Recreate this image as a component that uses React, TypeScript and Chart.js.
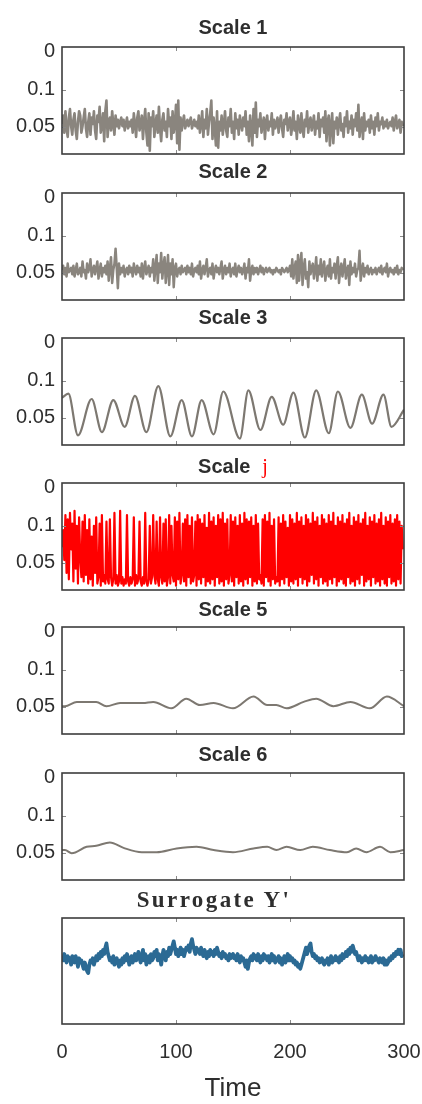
import React, { useEffect, useRef } from 'react';
import { Chart, registerables } from 'chart.js';

Chart.register(...registerables);

// ---------- data ----------
const TIME_MIN = 0;
const TIME_MAX = 300;
const TIME_TICKS = [0, 100, 200, 300];
const SAMPLE_STEP = 1; // noisy series: one sample per time unit

const Y_TICK_POSITIONS = [4, 40, 74.5];
const Y_TICK_LABELS = ['0', '0.1', '0.05'];

const PANEL_TITLES = ['Scale 1', 'Scale 2', 'Scale 3', 'Scale', 'Scale 5', 'Scale 6', "Surrogate Y'"];
const SCALE_J_SUFFIX = 'j';
const X_AXIS_TITLE = 'Time';

const scale1Values = [
  72, 64, 80, 60, 76, 84, 66, 58, 74, 82,
  68, 62, 78, 86, 70, 60, 64, 80, 74, 66,
  58, 76, 84, 70, 62, 82, 66, 72, 60, 78,
  86, 64, 70, 56, 80, 74, 62, 88, 60, 50,
  84, 70, 66, 78, 60, 72, 82, 64, 74, 68,
  76, 70, 66, 74, 68, 78, 72, 66, 76, 70,
  74, 68, 80, 62, 72, 84, 66, 60, 78, 72,
  64, 86, 70, 58, 80, 92, 62, 97, 66, 74,
  60, 84, 72, 64, 80, 56, 76, 88, 68, 62,
  78, 70, 84, 58, 74, 66, 86, 60, 80, 72,
  54, 90, 50, 96, 66, 78, 70, 64, 76, 72,
  68, 74, 70, 66, 76, 72, 68, 74, 70, 76,
  64, 80, 72, 60, 84, 68, 76, 58, 82, 70,
  62, 50, 86, 66, 76, 92, 60, 94, 70, 78,
  64, 82, 72, 60, 78, 84, 66, 74, 58, 80,
  70, 86, 62, 76, 68, 82, 64, 72, 78, 66,
  74, 60, 82, 70, 88, 64, 76, 92, 58, 80,
  52, 84, 68, 74, 62, 80, 72, 66, 86, 70,
  64, 78, 70, 74, 62, 82, 68, 76, 72, 66,
  80, 70, 64, 76, 84, 68, 72, 62, 78, 70,
  66, 82, 74, 60, 78, 70, 86, 64, 72, 80,
  62, 76, 84, 68, 74, 60, 80, 70, 66, 78,
  72, 64, 82, 70, 76, 62, 84, 68, 74, 66,
  80, 60, 88, 70, 64, 92, 74, 62, 90, 70,
  76, 66, 82, 70, 62, 78, 72, 84, 66, 74,
  60, 80, 70, 76, 64, 82, 68, 74, 62, 78,
  54, 84, 72, 66, 86, 62, 78, 70, 74, 68,
  80, 64, 76, 70, 82, 66, 74, 62, 78, 70,
  72, 66, 76, 70, 74, 68, 76, 72, 70, 74,
  66, 78, 70, 64, 76, 72, 68, 80, 70, 74,
];

const scale2Values = [
  72, 68, 76, 70, 78, 66, 74, 72, 70, 76,
  68, 78, 72, 66, 76, 74, 70, 78, 64, 74,
  72, 80, 66, 74, 70, 62, 78, 72, 68, 76,
  70, 64, 80, 72, 66, 78, 70, 74, 68, 76,
  64, 82, 70, 60, 84, 72, 66, 52, 70, 89,
  66, 76, 70, 74, 68, 78, 72, 70, 76, 68,
  74, 70, 78, 66, 72, 76, 68, 74, 70, 78,
  66, 80, 70, 64, 76, 72, 68, 78, 70, 74,
  62, 82, 70, 58, 84, 66, 74, 56, 80, 68,
  60, 84, 72, 58, 86, 66, 76, 62, 88, 70,
  66, 78, 72, 70, 76, 68, 74, 72, 70, 76,
  68, 74, 70, 76, 66, 78, 72, 70, 74, 68,
  76, 64, 80, 72, 68, 76, 70, 62, 78, 72,
  70, 76, 66, 80, 72, 68, 74, 70, 76, 70,
  64, 80, 72, 68, 76, 70, 74, 66, 78, 72,
  70, 76, 66, 78, 72, 68, 74, 70, 76, 72,
  66, 80, 70, 74, 62, 82, 72, 68, 76, 70,
  74, 70, 76, 72, 68, 74, 70, 76, 72, 70,
  74, 72, 70, 74, 72, 76, 72, 74, 70, 72,
  74, 72, 76, 70, 72, 74, 72, 70, 74, 72,
  68, 78, 62, 80, 70, 64, 84, 58, 82, 66,
  56, 86, 70, 62, 80, 74, 88, 64, 76, 70,
  66, 80, 72, 60, 82, 68, 76, 62, 78, 70,
  64, 82, 72, 68, 78, 62, 80, 70, 74, 66,
  80, 68, 60, 84, 72, 66, 78, 70, 62, 80,
  72, 68, 86, 64, 76, 70, 74, 66, 78, 72,
  70, 54, 82, 72, 66, 78, 70, 74, 68, 76,
  72, 70, 76, 72, 74, 70, 76, 72, 70, 74,
  68, 76, 72, 70, 74, 66, 78, 72, 70, 74,
  72, 76, 70, 74, 68, 76, 72, 74, 70, 72,
];

const scale3Times = [
  0, 5.6, 14, 26, 35, 45, 55, 64, 74, 84.5,
  95, 105, 114, 122.5, 133, 141.5, 156, 163.5, 174, 184,
  194, 203, 213, 223, 234, 242, 253, 263, 272, 282,
  289, 300,
];
const scale3Values = [
  56, 52, 91, 57, 88, 58, 83, 54, 88, 45,
  92, 58, 92, 58, 90, 50, 94, 49, 86, 55,
  81, 51, 93, 49, 89, 50, 84, 53, 80, 53,
  83, 67,
];

const scaleJValues = [
  60, 44, 72, 30, 84, 34, 90, 28, 62, 38,
  92, 26, 80, 40, 94, 32, 70, 88, 36, 92,
  30, 86, 44, 94, 34, 90, 50, 96, 40, 84,
  32, 94, 88, 38, 96, 30, 92, 86, 94, 36,
  90, 94, 34, 88, 96, 90, 28, 94, 86, 96,
  92, 26, 94, 88, 96, 90, 94, 30, 92, 96,
  88, 94, 90, 32, 96, 86, 94, 90, 36, 92,
  96, 88, 94, 28, 92, 96, 90, 40, 94, 88,
  30, 86, 94, 36, 90, 96, 32, 88, 94, 38,
  92, 34, 96, 88, 30, 94, 40, 86, 92, 32,
  96, 36, 90, 28, 94, 86, 38, 92, 34, 96,
  30, 88, 40, 94, 32, 92, 86, 36, 96, 30,
  90, 34, 94, 38, 88, 30, 96, 42, 92, 28,
  94, 36, 90, 32, 96, 40, 88, 30, 94, 34,
  92, 28, 96, 38, 90, 34, 94, 86, 30, 92,
  36, 96, 32, 88, 40, 94, 30, 92, 38, 96,
  28, 90, 34, 94, 36, 88, 32, 96, 40, 92,
  30, 94, 38, 90, 86, 94, 34, 96, 30, 88,
  36, 92, 28, 96, 40, 90, 34, 94, 88, 92,
  32, 96, 38, 90, 30, 94, 36, 88, 42, 96,
  30, 92, 34, 94, 38, 90, 28, 96, 36, 88,
  32, 94, 40, 90, 30, 96, 34, 92, 38, 86,
  28, 94, 36, 90, 32, 96, 40, 88, 30, 94,
  34, 92, 38, 96, 30, 90, 36, 94, 28, 88,
  40, 96, 32, 92, 36, 90, 30, 94, 38, 96,
  34, 88, 28, 94, 40, 92, 32, 96, 36, 90,
  30, 94, 38, 86, 34, 96, 28, 92, 40, 90,
  32, 96, 36, 88, 30, 94, 38, 92, 34, 96,
  28, 90, 40, 94, 32, 96, 36, 88, 30, 94,
  38, 92, 34, 96, 30, 90, 36, 94, 40, 62,
];

const scale5Times = [0, 2.6, 13, 30, 39, 51, 71, 80, 96, 109, 121, 133, 150, 168, 180, 188, 197, 212, 223, 238, 253, 270, 285, 300];
const scale5Values = [74, 74, 70, 70, 74, 71, 71, 70, 76, 67, 73, 71, 76, 65, 73, 73, 76, 70, 67, 74, 70, 76, 65, 74];

const scale6Times = [0, 2.6, 8.5, 21.6, 30, 42, 54, 70, 83, 100.6, 118, 133, 150, 168, 180, 188, 197, 209, 220, 235, 250, 258, 267, 279, 288, 300];
const scale6Values = [72, 72, 75, 69, 68, 65, 70, 74, 74, 70.5, 69, 72, 74, 70.5, 69, 72, 69, 72, 69, 72, 74, 70.5, 74, 69, 74, 72];

const surrogateValues = [
  36, 40, 34, 38, 42, 36, 40, 38, 44, 36,
  38, 42, 36, 40, 46, 38, 42, 40, 44, 48,
  42, 46, 50, 52, 44, 40, 42, 38, 44, 40,
  36, 40, 34, 38, 32, 36, 30, 34, 28, 24,
  32, 36, 40, 38, 42, 36, 44, 40, 38, 42,
  46, 40, 44, 38, 42, 36, 40, 34, 38, 44,
  40, 36, 42, 38, 34, 40, 36, 32, 38, 42,
  36, 30, 40, 34, 44, 38, 36, 42, 34, 40,
  38, 32, 36, 30, 40, 34, 38, 44, 36, 30,
  34, 40, 32, 36, 28, 34, 30, 26, 22, 28,
  34, 30, 36, 32, 28, 34, 30, 36, 32, 28,
  30, 26, 32, 24, 20, 26, 30, 34, 28, 32,
  30, 34, 28, 32, 36, 30, 34, 38, 32, 36,
  30, 34, 32, 36, 30, 34, 28, 32, 36, 34,
  38, 32, 36, 34, 38, 36, 40, 34, 38, 36,
  34, 38, 36, 40, 34, 38, 42, 36, 40, 38,
  42, 46, 40, 48, 42, 38, 36, 40, 34, 38,
  36, 40, 34, 38, 42, 36, 40, 34, 38, 36,
  40, 36, 42, 38, 34, 40, 36, 42, 38, 40,
  36, 42, 38, 44, 40, 36, 42, 38, 34, 40,
  36, 40, 38, 42, 40, 44, 42, 46, 44, 48,
  44, 40, 36, 32, 28, 34, 30, 26, 24, 32,
  36, 34, 38, 36, 40, 38, 42, 40, 38, 42,
  44, 40, 42, 38, 44, 40, 36, 42, 38, 40,
  36, 40, 38, 42, 36, 40, 34, 38, 36, 32,
  36, 30, 34, 28, 32, 26, 30, 34, 32, 36,
  40, 36, 38, 42, 38, 40, 36, 40, 38, 42,
  40, 36, 42, 38, 40, 36, 38, 40, 42, 38,
  40, 42, 38, 44, 40, 44, 42, 38, 40, 36,
  38, 34, 36, 32, 34, 30, 34, 30, 36, 34,
];

// ---------- helpers ----------
const stepTimes = (n: number) => Array.from({ length: n }, (_, i) => i * SAMPLE_STEP);
const toPoints = (times: number[], values: number[]) => values.map((v, i) => ({ x: times[i], y: v }));

const SANS = '"Liberation Sans", Arial, sans-serif';
const SERIF = '"Liberation Serif", "Times New Roman", serif';
const TEXT_COLOR = '#2e2e2e';

const framePlugin = {
  id: 'panelFrame',
  afterDatasetsDraw(chart: any, _args: any, opts: any) {
    const { ctx, chartArea: a, scales } = chart;
    const xs = scales.x;
    const ys = scales.y;
    ctx.save();
    ctx.strokeStyle = '#8a8a8a';
    ctx.lineWidth = 1;
    const seg = (x1: number, y1: number, x2: number, y2: number) => {
      ctx.beginPath();
      ctx.moveTo(x1, y1);
      ctx.lineTo(x2, y2);
      ctx.stroke();
    };
    TIME_TICKS.slice(1, -1).forEach((t) => {
      const px = Math.round(xs.getPixelForValue(t)) + 0.5;
      seg(px, a.top, px, a.top + 4);
      seg(px, a.bottom, px, a.bottom - 4);
    });
    if (opts && opts.yTicks) {
      Y_TICK_POSITIONS.slice(1).forEach((v) => {
        const py = Math.round(ys.getPixelForValue(v)) + 0.5;
        seg(a.left, py, a.left + 4, py);
        seg(a.right, py, a.right - 4, py);
      });
    }
    ctx.strokeStyle = '#3d3d3d';
    ctx.lineWidth = 1.6;
    ctx.strokeRect(a.left, a.top, a.right - a.left, a.bottom - a.top);
    ctx.restore();
  },
};

type PanelProps = {
  top: number;
  height: number;
  times: number[];
  values: number[];
  color: string;
  lineWidth: number;
  smooth: boolean;
  showY: boolean;
  showX: boolean;
};

const PAD_TOP = 20;
const PAD_BOTTOM = 20;
const X_AXIS_HEIGHT = 80;

function Panel({ top, height, times, values, color, lineWidth, smooth, showY, showX }: PanelProps) {
  const ref = useRef<HTMLCanvasElement | null>(null);
  const canvasHeight = height + PAD_TOP + (showX ? X_AXIS_HEIGHT : PAD_BOTTOM);

  useEffect(() => {
    if (!ref.current) return;
    const chart = new Chart(ref.current, {
      type: 'line',
      data: {
        datasets: [
          {
            data: toPoints(times, values),
            borderColor: color,
            borderWidth: lineWidth,
            pointRadius: 0,
            fill: false,
            tension: smooth ? 0.4 : 0,
            cubicInterpolationMode: smooth ? 'monotone' : 'default',
            borderJoinStyle: 'round',
          },
        ],
      },
      options: {
        responsive: false,
        animation: false,
        events: [],
        layout: { padding: { left: 0, right: 18, top: PAD_TOP, bottom: showX ? 0 : PAD_BOTTOM } },
        plugins: {
          legend: { display: false },
          tooltip: { enabled: false },
          title: { display: false },
          panelFrame: { yTicks: showY },
        } as any,
        scales: {
          x: {
            type: 'linear',
            min: TIME_MIN,
            max: TIME_MAX,
            display: showX,
            afterBuildTicks: (s: any) => {
              s.ticks = TIME_TICKS.map((v) => ({ value: v }));
            },
            ticks: {
              autoSkip: false,
              maxRotation: 0,
              padding: 0,
              color: TEXT_COLOR,
              font: { family: SANS, size: 20 },
            },
            grid: {
              display: true,
              drawOnChartArea: false,
              drawTicks: true,
              tickLength: 16,
              color: 'rgba(0,0,0,0)',
            },
            border: { display: false },
            title: {
              display: showX,
              text: X_AXIS_TITLE,
              color: TEXT_COLOR,
              font: { family: SANS, size: 26 },
              padding: { top: 4, bottom: 0 },
            },
            afterFit: (s: any) => {
              if (showX) s.height = X_AXIS_HEIGHT;
            },
          },
          y: {
            type: 'linear',
            min: 0,
            max: 100,
            reverse: true,
            afterBuildTicks: (s: any) => {
              s.ticks = Y_TICK_POSITIONS.map((v) => ({ value: v }));
            },
            ticks: {
              display: showY,
              autoSkip: false,
              padding: 7,
              color: TEXT_COLOR,
              font: { family: SANS, size: 20 },
              callback: (v: any) => Y_TICK_LABELS[Y_TICK_POSITIONS.indexOf(Number(v))],
            },
            grid: { display: false, drawTicks: false },
            border: { display: false },
            afterFit: (s: any) => {
              s.width = 62;
            },
          },
        },
      } as any,
      plugins: [framePlugin],
    });
    return () => chart.destroy();
  }, []);

  return (
    <canvas
      ref={ref}
      width={422}
      height={canvasHeight}
      style={{ position: 'absolute', left: 0, top: top - PAD_TOP, width: 422, height: canvasHeight }}
    />
  );
}

const titleStyle = (center: number, left: number): React.CSSProperties => ({
  position: 'absolute',
  left,
  width: 342,
  top: center - 12,
  height: 24,
  lineHeight: '24px',
  textAlign: 'center',
  whiteSpace: 'nowrap',
  color: TEXT_COLOR,
});

export default function App() {
  const tops = [47, 193, 338, 483, 627, 773, 918];
  const titleCenters = [27, 171, 317, 466, 609, 754, 900];
  const H = 107;
  const GRAY = '#8a857e';
  const GRAY_DARK = '#7d7871';

  const panels = [
    { times: stepTimes(scale1Values.length), values: scale1Values, color: GRAY, lineWidth: 2.6, smooth: false },
    { times: stepTimes(scale2Values.length), values: scale2Values, color: GRAY, lineWidth: 2.5, smooth: false },
    { times: scale3Times, values: scale3Values, color: GRAY_DARK, lineWidth: 2.2, smooth: true },
    { times: stepTimes(scaleJValues.length), values: scaleJValues, color: '#ff0000', lineWidth: 2.2, smooth: false },
    { times: scale5Times, values: scale5Values, color: GRAY_DARK, lineWidth: 2, smooth: true },
    { times: scale6Times, values: scale6Values, color: GRAY_DARK, lineWidth: 2, smooth: true },
    { times: stepTimes(surrogateValues.length), values: surrogateValues, color: '#2b6a94', lineWidth: 3.8, smooth: false },
  ];

  return (
    <div style={{ position: 'absolute', left: 0, top: 0, width: 422, height: 1104, background: '#fff', overflow: 'hidden' }}>
      {panels.map((p, i) => (
        <Panel
          key={i}
          top={tops[i]}
          height={i === 6 ? 106 : H}
          times={p.times}
          values={p.values}
          color={p.color}
          lineWidth={p.lineWidth}
          smooth={p.smooth}
          showY={i < 6}
          showX={i === 6}
        />
      ))}
      {PANEL_TITLES.map((t, i) => {
        if (i === 6) {
          return (
            <div
              key={i}
              style={{ ...titleStyle(titleCenters[i], 43), fontFamily: SERIF, fontWeight: 'bold', fontSize: 23, letterSpacing: 2.4 }}
            >
              {t}
            </div>
          );
        }
        return (
          <div key={i} style={{ ...titleStyle(titleCenters[i], 62), fontFamily: SANS, fontWeight: 'bold', fontSize: 20 }}>
            {t}
            {i === 3 ? (
              <span style={{ fontFamily: SERIF, fontWeight: 'normal', color: '#ff0000', marginLeft: 12, fontSize: 20 }}>
                {SCALE_J_SUFFIX}
              </span>
            ) : null}
          </div>
        );
      })}
    </div>
  );
}
